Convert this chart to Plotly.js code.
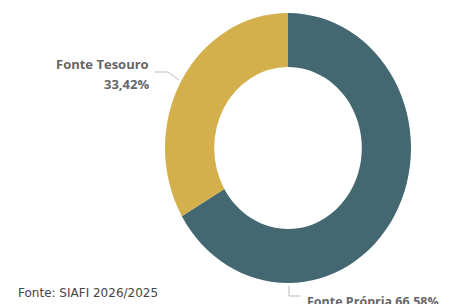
<!DOCTYPE html>
<html>
<head>
<meta charset="utf-8">
<script src="https://cdn.plot.ly/plotly-3.0.1.min.js"></script>
<style>html,body{margin:0;padding:0;background:#fff;}#chart{width:454px;height:304px;}</style>
</head>
<body>
<div id="chart"></div>
<script>
const labels = ["Fonte Própria", "Fonte Tesouro"];
const values = [66.58, 33.42];
const colors = ["#436871", "#D3B04C"];
const sourceNote = "Fonte: SIAFI 2026/2025";

const W = 454, H = 304;
const px = x => x / W;
const py = y => 1 - y / H;
const fmt = v => v.toFixed(2).replace(".", ",") + "%";

const trace = {
  type: "pie",
  labels: labels,
  values: values,
  marker: {colors: colors, line: {width: 0}},
  hole: 0.6,
  sort: false,
  direction: "clockwise",
  rotation: 0,
  textinfo: "none",
  hoverinfo: "none",
  showlegend: false,
  domain: {x: [px(165), px(411)], y: [py(271), py(25)]}
};

const lblFont = {family: "Open Sans, sans-serif", size: 13, color: "#666666"};
const lblFont2 = {family: "Open Sans, sans-serif", size: 12.5, color: "#666666"};
const layout = {
  width: W, height: H,
  margin: {l: 0, r: 0, t: 0, b: 0},
  paper_bgcolor: "#ffffff",
  showlegend: false,
  annotations: [
    {xref: "paper", yref: "paper", x: px(151), y: py(64), xanchor: "right", yanchor: "middle",
     align: "right", showarrow: false, font: lblFont,
     text: "<b>" + labels[1] + "</b>"},
    {xref: "paper", yref: "paper", x: px(151), y: py(84), xanchor: "right", yanchor: "middle",
     align: "right", showarrow: false, font: lblFont,
     text: "<b>" + fmt(values[1]) + "</b>"},
    {xref: "paper", yref: "paper", x: px(305), y: py(301), xanchor: "left", yanchor: "middle",
     align: "left", showarrow: false, font: lblFont2,
     text: "<b>" + labels[0] + " " + fmt(values[0]) + "</b>"},
    {xref: "paper", yref: "paper", x: px(16), y: py(293), xanchor: "left", yanchor: "middle",
     showarrow: false, font: {family: "DejaVu Sans, sans-serif", size: 12, color: "#444444"},
     text: sourceNote}
  ],
  shapes: [
    {type: "path", xref: "paper", yref: "paper", line: {color: "#bbbbbb", width: 1},
     path: "M " + px(155) + " " + py(72) + " L " + px(168) + " " + py(72) + " L " + px(179) + " " + py(80)},
    {type: "path", xref: "paper", yref: "paper", line: {color: "#bbbbbb", width: 1},
     path: "M " + px(289) + " " + py(286) + " L " + px(289) + " " + py(296) + " L " + px(300) + " " + py(296)}
  ]
};

Plotly.newPlot("chart", [trace], layout, {staticPlot: true, displayModeBar: false}).then(gd => {
  // stretch the donut vertically to match the slightly elliptical reference
  const cy = 148, k = 135 / 123;
  gd.querySelectorAll(".pielayer .trace").forEach(g => {
    g.setAttribute("transform", "translate(0," + cy + ") scale(1," + k + ") translate(0," + (-cy) + ")");
  });
});
</script>
</body>
</html>
